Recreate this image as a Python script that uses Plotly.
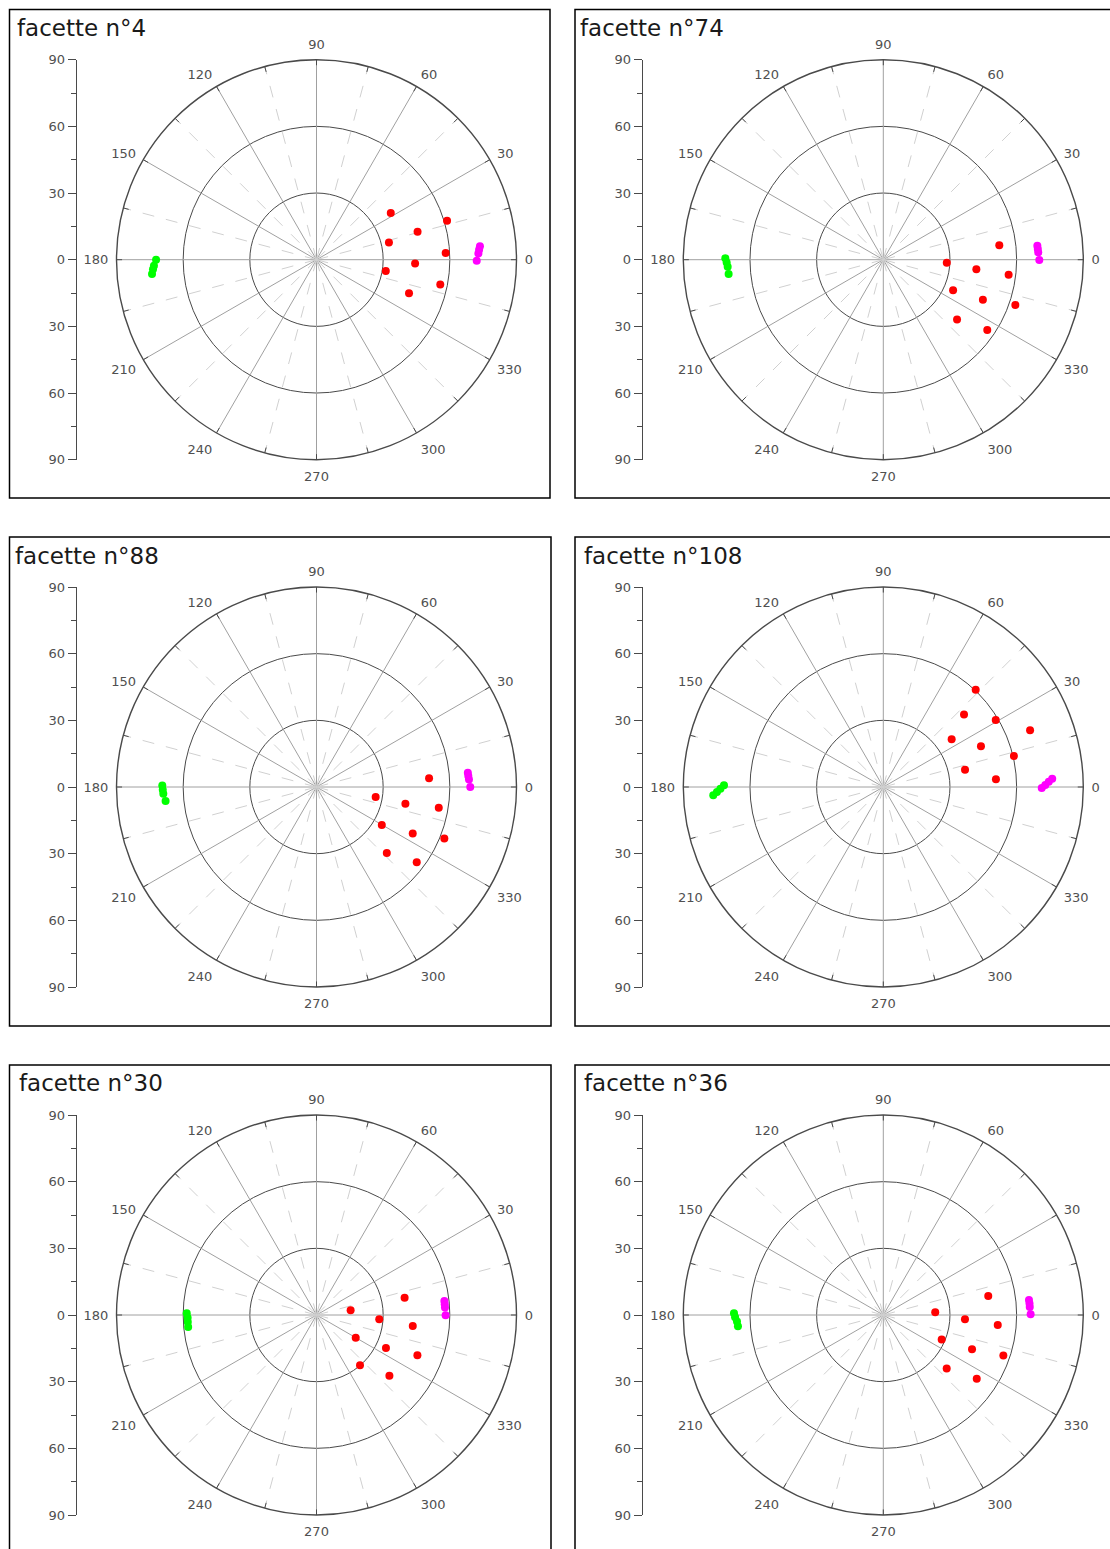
import plotly.graph_objects as go

W, H = 1110, 1549
R_PX = 200.0

# ---------------- data ----------------
TITLES = ["facette n°4", "facette n°74", "facette n°88",
          "facette n°108", "facette n°30", "facette n°36"]

AXIS_TICK_VALUES = [-90, -60, -30, 0, 30, 60, 90]
AXIS_TICK_TEXT = ["90", "60", "30", "0", "30", "60", "90"]

ANGLE_TICK_VALUES = [0, 30, 60, 90, 120, 150, 180, 210, 240, 270, 300, 330]
ANGLE_TICK_TEXT = ["0", "30", "60", "90", "120", "150", "180", "210", "240", "270", "300", "330"]
ANGLE_TICK_MARKS = [0, 15, 30, 45, 60, 75, 90, 105, 120, 135, 150, 165,
                    180, 195, 210, 225, 240, 255, 270, 285, 300, 315, 330, 345]
MAJOR_SPOKES = [0, 30, 60, 90, 120, 150, 180, 210, 240, 270, 300, 330]
MINOR_SPOKES = [15, 45, 75, 105, 135, 165, 195, 225, 255, 285, 315, 345]
RADIAL_CIRCLES = [30, 60]

# facette n°4
F4_RED_THETA = [32.2, 16.6, 15.5, 13.4, 3.0, 357.8, 350.7, 348.7, 340.0]
F4_RED_R = [39.5, 61.3, 47.2, 33.5, 58.2, 44.4, 31.6, 56.8, 44.3]
F4_MAG_THETA = [4.7, 3.5, 2.2, 359.6]
F4_MAG_R = [73.8, 73.3, 72.9, 72.1]
F4_GRN_THETA = [180.0, 182.1, 183.3, 185.0]
F4_GRN_R = [72.2, 73.2, 73.7, 74.3]

# facette n°74
F74_RED_THETA = [7.1, 357.3, 354.1, 353.2, 336.3, 338.1, 341.1, 321.0, 325.9]
F74_RED_R = [52.6, 28.6, 42.1, 56.8, 34.3, 48.3, 62.8, 42.7, 56.5]
F74_MAG_THETA = [5.2, 4.0, 2.7, 359.9]
F74_MAG_R = [69.6, 69.7, 69.8, 70.2]
F74_GRN_THETA = [179.5, 181.0, 182.6, 185.3]
F74_GRN_R = [71.1, 70.5, 70.1, 69.9]

# facette n°88
F88_RED_THETA = [4.4, 350.4, 349.4, 350.4, 329.8, 334.2, 338.1, 316.8, 323.1]
F88_RED_R = [50.8, 27.0, 40.7, 55.8, 34.0, 48.1, 62.0, 43.4, 56.4]
F88_MAG_THETA = [5.4, 4.1, 2.8, 0.0]
F88_MAG_R = [68.4, 68.5, 68.7, 69.2]
F88_GRN_THETA = [179.4, 181.0, 182.5, 185.3]
F88_GRN_R = [69.4, 69.2, 69.0, 68.2]

# facette n°108
F108_RED_THETA = [46.5, 41.9, 30.8, 21.1, 34.9, 22.6, 13.3, 12.0, 3.9]
F108_RED_R = [60.4, 48.8, 58.9, 70.8, 37.5, 47.6, 60.4, 37.6, 50.8]
F108_MAG_THETA = [359.6, 0.7, 1.8, 2.8]
F108_MAG_R = [71.3, 72.9, 74.5, 76.1]
F108_GRN_THETA = [179.4, 180.6, 181.7, 182.8]
F108_GRN_R = [71.7, 73.3, 74.9, 76.6]

# facette n°30
F30_RED_THETA = [7.8, 11.1, 356.1, 353.5, 329.9, 334.6, 338.2, 310.9, 320.2]
F30_RED_R = [15.5, 40.4, 28.3, 43.6, 20.4, 34.6, 48.9, 29.9, 42.7]
F30_MAG_THETA = [6.3, 4.8, 3.3, 359.9]
F30_MAG_R = [57.9, 57.9, 57.9, 58.1]
F30_GRN_THETA = [179.2, 181.2, 183.1, 185.3]
F30_GRN_R = [58.4, 58.0, 58.0, 58.0]

# facette n°36
F36_RED_THETA = [10.3, 3.0, 357.0, 355.0, 337.2, 338.9, 341.4, 319.9, 325.7]
F36_RED_R = [48.0, 23.4, 36.8, 51.7, 28.5, 42.8, 57.0, 37.3, 50.9]
F36_MAG_THETA = [5.9, 4.5, 3.1, 0.3]
F36_MAG_R = [65.9, 66.0, 66.0, 66.3]
F36_GRN_THETA = [179.3, 180.9, 182.5, 184.4]
F36_GRN_R = [67.2, 66.7, 65.9, 65.6]

PANEL_DATA = [
    (F4_RED_THETA, F4_RED_R, F4_MAG_THETA, F4_MAG_R, F4_GRN_THETA, F4_GRN_R),
    (F74_RED_THETA, F74_RED_R, F74_MAG_THETA, F74_MAG_R, F74_GRN_THETA, F74_GRN_R),
    (F88_RED_THETA, F88_RED_R, F88_MAG_THETA, F88_MAG_R, F88_GRN_THETA, F88_GRN_R),
    (F108_RED_THETA, F108_RED_R, F108_MAG_THETA, F108_MAG_R, F108_GRN_THETA, F108_GRN_R),
    (F30_RED_THETA, F30_RED_R, F30_MAG_THETA, F30_MAG_R, F30_GRN_THETA, F30_GRN_R),
    (F36_RED_THETA, F36_RED_R, F36_MAG_THETA, F36_MAG_R, F36_GRN_THETA, F36_GRN_R),
]

# ---------------- layout geometry (pixels) ----------------
CENTERS = [(316.5, 259.7), (883.3, 259.7), (316.5, 787.0),
           (883.3, 787.0), (316.5, 1315.0), (883.3, 1315.0)]
AXIS_X = [76.7, 642.7, 76.7, 642.7, 76.7, 642.7]
FRAMES = [(9.5, 9.5, 550, 498), (575, 9.5, 1116, 498),
          (9.5, 537, 551, 1026), (575, 537, 1116, 1026),
          (9.5, 1065, 551, 1565), (575, 1065, 1116, 1565)]
TITLE_POS = [(15, 28), (578, 28), (13, 556), (582, 556), (17, 1083), (582, 1083)]

TICK_GREY = "#505050"
LINE_GREY = "#4a4a4a"


def px_x(x):
    return x / W


def px_y(y):
    return 1 - y / H


fig = go.Figure()
layout = dict(width=W, height=H,
              margin=dict(l=0, r=0, t=0, b=0, pad=0, autoexpand=False),
              autosize=False,
              paper_bgcolor="white", plot_bgcolor="white", showlegend=False)
shapes = []
annotations = []


def spoke_lists(angles, r0, r1):
    rr, tt = [], []
    for a in angles:
        rr += [r0, r1, None]
        tt += [a, a, None]
    return rr, tt


for i in range(6):
    k = i + 1
    pkey = "polar" if k == 1 else f"polar{k}"
    sub = "polar" if k == 1 else f"polar{k}"
    cx, cy = CENTERS[i]

    # spokes
    r_major, t_major = spoke_lists(MAJOR_SPOKES, 0, 90)
    fig.add_trace(go.Scatterpolar(r=r_major, theta=t_major, mode="lines",
                                  line=dict(color="#a0a0a0", width=1),
                                  subplot=sub, hoverinfo="skip", connectgaps=False))
    r_minor, t_minor = spoke_lists(MINOR_SPOKES, 0, 90)
    fig.add_trace(go.Scatterpolar(r=r_minor, theta=t_minor, mode="lines",
                                  line=dict(color="#d0d0d0", width=1, dash="12px,12px"),
                                  subplot=sub, hoverinfo="skip", connectgaps=False))
    # inward tick marks on outer circle
    r_tick, t_tick = spoke_lists(ANGLE_TICK_MARKS, 87.5, 90)
    fig.add_trace(go.Scatterpolar(r=r_tick, theta=t_tick, mode="lines",
                                  line=dict(color=LINE_GREY, width=1),
                                  subplot=sub, hoverinfo="skip", connectgaps=False))

    rt, rr, mt, mr, gt, gr = PANEL_DATA[i]
    for th, r, col in ((gt, gr, "#00ff00"), (mt, mr, "#ff00ff"), (rt, rr, "#ff0000")):
        fig.add_trace(go.Scatterpolar(r=r, theta=th, mode="markers",
                                      marker=dict(color=col, size=8, line=dict(width=0)),
                                      subplot=sub))

    layout[pkey] = dict(
        domain=dict(x=[px_x(cx - R_PX), px_x(cx + R_PX)],
                    y=[px_y(cy + R_PX), px_y(cy - R_PX)]),
        bgcolor="white",
        radialaxis=dict(range=[0, 90], tickvals=RADIAL_CIRCLES, showticklabels=False,
                        ticks="", showline=False, gridcolor=LINE_GREY, gridwidth=1.4),
        angularaxis=dict(rotation=0, direction="counterclockwise",
                         tickmode="array", tickvals=ANGLE_TICK_VALUES, ticktext=ANGLE_TICK_TEXT,
                         ticks="outside", ticklen=5, tickcolor="rgba(0,0,0,0)",
                         showline=True, linecolor=LINE_GREY, linewidth=1.4,
                         showgrid=False,
                         tickfont=dict(family="DejaVu Sans", size=13, color=TICK_GREY)),
    )

    # left vertical axis
    xk = "x" if k == 1 else f"x{k}"
    yk = "y" if k == 1 else f"y{k}"
    xname = "xaxis" if k == 1 else f"xaxis{k}"
    yname = "yaxis" if k == 1 else f"yaxis{k}"
    ax = AXIS_X[i]
    fig.add_trace(go.Scatter(x=[None], y=[None], xaxis=xk, yaxis=yk, hoverinfo="skip"))
    layout[xname] = dict(domain=[px_x(ax), px_x(ax + 2)], anchor=yk, visible=False,
                         range=[0, 1], automargin=False)
    layout[yname] = dict(domain=[px_y(cy + R_PX), px_y(cy - R_PX)], anchor=xk,
                         range=[-90, 90], tickmode="array", automargin=False,
                         tickvals=AXIS_TICK_VALUES, ticktext=AXIS_TICK_TEXT,
                         ticks="outside", ticklen=8, tickcolor=LINE_GREY, tickwidth=1,
                         showline=True, linecolor=LINE_GREY, linewidth=1.3,
                         showgrid=False, zeroline=False,
                         minor=dict(dtick=15, ticks="outside", ticklen=5,
                                    tickcolor=LINE_GREY, showgrid=False),
                         tickfont=dict(family="DejaVu Sans", size=13, color=TICK_GREY))

    x0, y0, x1, y1 = FRAMES[i]
    shapes.append(dict(type="rect", xref="paper", yref="paper",
                       x0=px_x(x0), x1=px_x(x1), y0=px_y(y1), y1=px_y(y0),
                       line=dict(color="black", width=1.5), layer="above"))
    tx, ty = TITLE_POS[i]
    annotations.append(dict(text=TITLES[i], xref="paper", yref="paper",
                            x=px_x(tx), y=px_y(ty), xanchor="left", yanchor="middle",
                            showarrow=False,
                            font=dict(family="DejaVu Sans", size=23, color="#1a1a1a")))

layout["shapes"] = shapes
layout["annotations"] = annotations
fig.update_layout(**layout)
fig.update_traces(showlegend=False)
fig.write_html("out.html")
